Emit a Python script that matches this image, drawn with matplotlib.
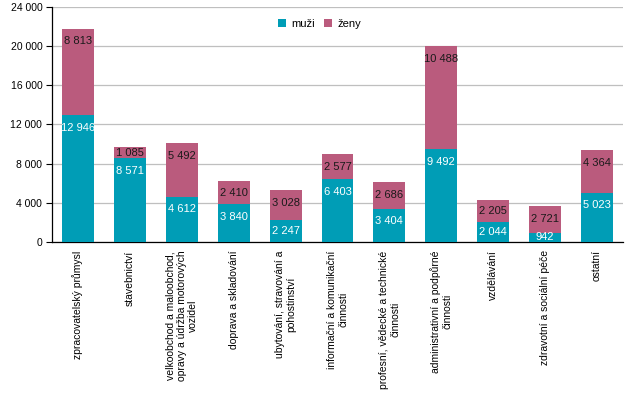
import matplotlib
matplotlib.use("Agg")
import matplotlib.pyplot as plt
from matplotlib.ticker import FuncFormatter, MultipleLocator

categories = [
    "zpracovatelský průmysl",
    "stavebnictví",
    "velkoobchod a maloobchod,\nopravy a údržba motorových\nvozidel",
    "doprava a skladování",
    "ubytování, stravování a\npohostinství",
    "informační a komunikační\nčinnosti",
    "profesní, vědecké a technické\nčinnosti",
    "administrativní a podpůrné\nčinnosti",
    "vzdělávání",
    "zdravotní a sociální péče",
    "ostatní",
]
muzi = [12946, 8571, 4612, 3840, 2247, 6403, 3404, 9492, 2044, 942, 5023]
zeny = [8813, 1085, 5492, 2410, 3028, 2577, 2686, 10488, 2205, 2721, 4364]
series_names = ["muži", "ženy"]

plt.rcParams['font.family'] = ['Liberation Sans', 'DejaVu Sans']

fig = plt.figure(figsize=(6.35, 4.04), dpi=100)
ax = fig.add_axes([0.0819, 0.401, 0.981 - 0.0819, 0.9827 - 0.401])

teal = "#009DB6"
pink = "#BA5B7D"
x = list(range(len(categories)))
w = 0.615
b1 = ax.bar(x, muzi, width=w, color=teal, label=series_names[0], zorder=3)
b2 = ax.bar(x, zeny, width=w, bottom=muzi, color=pink, label=series_names[1], zorder=3)

fmt = lambda v: f"{v:,.0f}".replace(",", " ")

ymax = 24000
ax.set_ylim(0, ymax)
# inside-end label: ~12.5 px below top, but kept at segment centre if segment is small
inset = 12.5 * ymax / 235.0

def label_y(bottom, top):
    return max(top - inset, (bottom + top) / 2.0)

for i in x:
    t1 = muzi[i]
    t2 = muzi[i] + zeny[i]
    ax.text(i, label_y(0, t1), fmt(muzi[i]), ha="center", va="center",
            color="white", fontsize=8, zorder=4)
    ax.text(i, label_y(t1, t2), fmt(zeny[i]), ha="center", va="center",
            color="#1a1a1a", fontsize=8, zorder=4)

ax.set_xlim(-0.5, len(categories) - 0.5)
ax.yaxis.set_major_locator(MultipleLocator(4000))
ax.yaxis.set_major_formatter(FuncFormatter(lambda v, p: fmt(v)))
ax.grid(axis="y", color="#BFBFBF", linewidth=0.9, zorder=0)
ax.set_axisbelow(True)

for s in ["top", "right"]:
    ax.spines[s].set_visible(False)
ax.spines["left"].set_color("black")
ax.spines["bottom"].set_color("black")
ax.spines["left"].set_linewidth(0.9)
ax.spines["bottom"].set_linewidth(0.9)

ax.tick_params(axis="y", labelsize=7.5, length=4, width=0.8, pad=3)
ax.tick_params(axis="x", length=0, pad=6)
ax.set_xticks(x)
ax.set_xticklabels(categories, rotation=90, ha="center", va="top",
                   multialignment="center", fontsize=7.5)

fig.legend(handles=[b1, b2], labels=series_names, loc="center", bbox_to_anchor=(0.503, 0.94),
           ncol=2, frameon=False, fontsize=8, handlelength=0.7, handleheight=0.7,
           handletextpad=0.5, columnspacing=0.8)

fig.savefig("out.png", dpi=100)
